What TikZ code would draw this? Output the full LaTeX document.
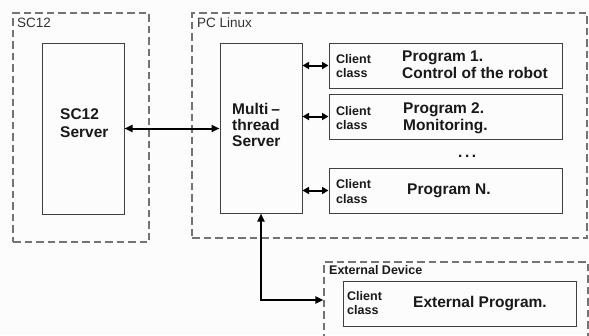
\documentclass[tikz,border=0pt]{standalone}
\usepackage{fontspec}
\setmainfont{Liberation Sans}
\usetikzlibrary{arrows.meta,calc}
\begin{document}
\begin{tikzpicture}[x=1pt,y=-1pt,
  group/.style={draw=black!55, dash pattern=on 7.5pt off 4pt, line width=1.3pt, inner sep=0pt, rectangle},
  box/.style={draw=black!75, line width=1pt, inner sep=0pt, rectangle},
  lbl/.style={inner sep=0pt, anchor=base west, text=black!90},
  big/.style={lbl, font=\fontsize{15.5}{18}\selectfont\bfseries},
  small/.style={lbl, font=\fontsize{12.5}{14}\selectfont\bfseries},
  title/.style={lbl, font=\fontsize{13.5}{15}\selectfont, text=black!80},
  conn/.style={line width=2pt, {Triangle[length=8pt,width=7pt]}-{Triangle[length=8pt,width=7pt]}},
  sconn/.style={line width=2pt, {Triangle[length=6.5pt,width=7pt]}-{Triangle[length=6.5pt,width=7pt]}}
]
\fill[black!1] (0,0) rectangle (589,335);
\clip (0,0) rectangle (589,335);

% dashed groups
\node[group, minimum width=136pt, minimum height=229pt] (sc12) at (81,127.5) {};
\node[group, minimum width=395pt, minimum height=225pt] (pc) at (389.5,125.5) {};
\node[group, minimum width=264pt, minimum height=90pt] (extdev) at (456,307) {};

\node[title] (sc12t) at (17,27) {SC12};
\node[title] (pct) at (197,27) {PC Linux};
\node[small] (extt) at (329,274) {External Device};

% boxes
\node[box, minimum width=82pt, minimum height=171pt] (srv) at (83,128.5) {};
\node[box, minimum width=82pt, minimum height=170pt] (mts) at (261,128) {};
\node[box, minimum width=233pt, minimum height=45pt] (c1) at (445.5,65.5) {};
\node[box, minimum width=233pt, minimum height=45pt] (c2) at (445.5,116.5) {};
\node[box, minimum width=233pt, minimum height=45pt] (c3) at (445.5,190.5) {};
\node[box, minimum width=233pt, minimum height=45pt] (ec) at (459.5,303.5) {};

% server texts
\node[big] (srv1) at (60,119) {SC12};
\node[big] (srv2) at (60,137) {Server};
\node[big] (mts1) at (232,114) {Multi\kern3pt–};
\node[big] (mts2) at (232,130) {thread};
\node[big] (mts3) at (232,146) {Server};

% client 1
\node[small] (c1a) at (336,63) {Client};
\node[small] (c1b) at (336,77) {class};
\node[big] (c1p) at (402,61) {Program 1.};
\node[big] (c1q) at (402,78) {Control of the robot};
% client 2
\node[small] (c2a) at (336,115) {Client};
\node[small] (c2b) at (336,129) {class};
\node[big] (c2p) at (403,113) {Program 2.};
\node[big] (c2q) at (403,130) {Monitoring.};
% dots
\node[big] (dots) at (458,157) {.\kern2.5pt.\kern2.5pt.};
% client N
\node[small] (c3a) at (336,188) {Client};
\node[small] (c3b) at (336,203) {class};
\node[big] (c3p) at (407,194) {Program N.};
% external
\node[small] (eca) at (347,300) {Client};
\node[small] (ecb) at (347,314) {class};
\node[big] (ecp) at (413,307.5) {External Program.};

% connectors
\draw[conn] (srv.east) -- (srv.east -| mts.west);
\draw[sconn] (mts.east |- c1.west) -- (c1.west);
\draw[sconn] (mts.east |- c2.west) -- (c2.west);
\draw[sconn] (mts.east |- c3.west) -- (c3.west);
\draw[conn] (mts.south) |- ($(extdev.west)+(0,-7)$);
\end{tikzpicture}
\end{document}
